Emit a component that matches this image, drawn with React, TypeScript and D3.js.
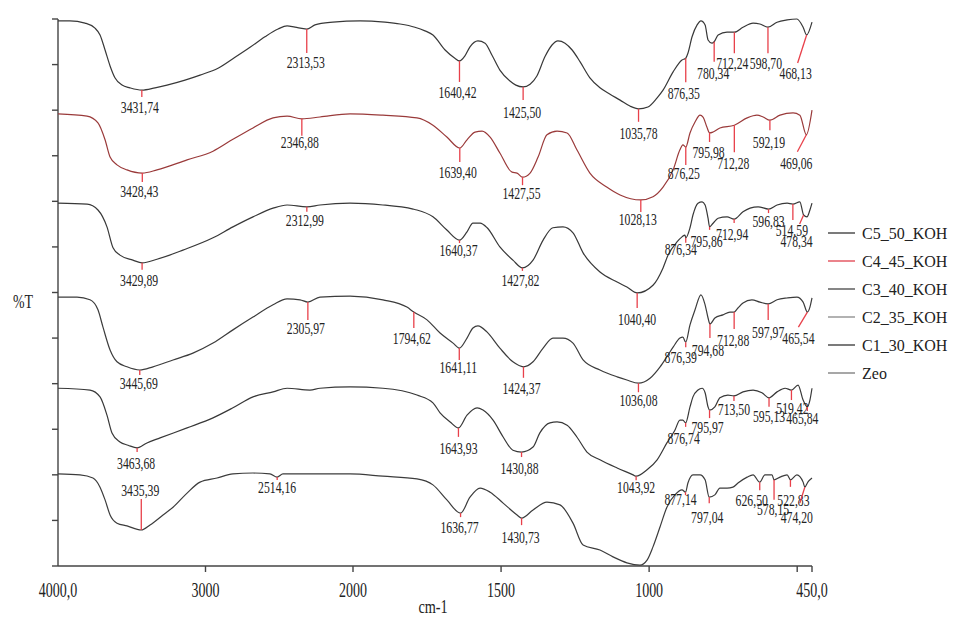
import React from 'react';
import * as d3 from 'd3';

// FTIR spectra, [wavenumber cm-1, %T (stacked)]
const c5: [number, number][] = [
  [4000, 119.6], [3919, 119.6], [3817, 119.1], [3749, 118.0], [3715, 116.5], [3681, 113.2],
  [3647, 109.7], [3614, 107.1], [3566, 105.5], [3512, 104.9], [3431.74, 104.4], [3342, 104.9],
  [3261, 105.5], [3139, 106.6], [3037, 107.7], [2915, 109.2], [2800, 111.6], [2698, 113.8],
  [2597, 116.1], [2508, 117.8], [2447, 118.5], [2393, 118.2], [2313.53, 117.8], [2258, 118.7],
  [2136, 119.3], [1976, 119.6], [1892, 119.3], [1841, 118.9], [1791, 118.2], [1757, 117.4],
  [1730, 116.5], [1689, 113.2], [1656, 111.4], [1640.42, 110.8], [1622, 111.9], [1605, 113.9],
  [1578, 115.2], [1554, 114.7], [1531, 112.1], [1504, 108.8], [1470, 106.4], [1450, 105.5],
  [1425.5, 105.1], [1402, 105.7], [1379, 107.5], [1352, 111.7], [1328, 114.3], [1308, 115.2],
  [1284, 114.7], [1260, 113.2], [1233, 110.6], [1200, 107.1], [1166, 104.9], [1132, 103.5],
  [1098, 102.2], [1065, 100.9], [1035.78, 100.3], [1004, 100.7], [973, 102.7], [953, 104.4],
  [919, 108.4], [889, 111.0], [876.35, 111.4], [869, 112.5], [855, 116.1], [838, 118.7],
  [825, 119.6], [811, 118.7], [801, 115.4], [788, 114.7], [780.34, 115.0], [767, 116.5],
  [737, 117.1], [712.24, 117.1], [683, 118.2], [649, 119.1], [626, 118.9], [598.7, 118.2],
  [568, 119.3], [534, 119.8], [501, 120.0], [480, 118.2], [468.13, 116.5], [450, 119.3],
];

const c4: [number, number][] = [
  [4000, 99.2], [3803, 98.7], [3729, 97.2], [3681, 93.5], [3647, 89.7], [3600, 88.0],
  [3532, 86.9], [3428.43, 86.2], [3329, 86.9], [3125, 89.1], [2949, 91.0], [2814, 93.6],
  [2678, 96.1], [2542, 98.3], [2447, 98.7], [2346.88, 98.1], [2224, 98.5], [2020, 99.2],
  [1899, 98.9], [1784, 98.3], [1730, 96.7], [1683, 94.1], [1639.4, 91.7], [1615, 93.5],
  [1588, 95.2], [1564, 95.4], [1537, 94.1], [1504, 90.6], [1463, 86.4], [1446, 86.2],
  [1427.55, 85.3], [1402, 86.2], [1375, 89.7], [1345, 94.6], [1311, 95.4], [1277, 95.0],
  [1244, 91.3], [1200, 86.2], [1142, 83.1], [1098, 81.4], [1028.13, 80.3], [987, 81.0],
  [953, 83.1], [919, 86.9], [896, 91.3], [886, 92.4], [876.25, 91.9], [862, 95.0],
  [845, 97.4], [828, 98.9], [818, 98.5], [805, 96.3], [795.98, 95.0], [784, 95.2],
  [761, 96.1], [712.28, 96.7], [669, 98.3], [636, 98.9], [615, 98.5], [592.19, 97.8],
  [558, 98.9], [514, 99.4], [491, 98.9], [469.06, 94.6], [450, 100.0],
];

const c3: [number, number][] = [
  [4000, 79.6], [3803, 79.4], [3729, 78.1], [3668, 74.4], [3627, 69.8], [3580, 68.2],
  [3492, 67.1], [3429.89, 66.5], [3329, 67.3], [3153, 69.3], [2949, 72.0], [2814, 74.4],
  [2678, 76.6], [2542, 78.5], [2447, 79.2], [2312.99, 78.8], [2224, 79.2], [2020, 79.6],
  [1899, 79.2], [1797, 78.3], [1784, 78.1], [1730, 76.6], [1683, 73.7], [1640.37, 71.5],
  [1615, 73.3], [1595, 75.2], [1571, 75.2], [1547, 74.2], [1504, 70.0], [1460, 67.1],
  [1427.82, 65.4], [1392, 67.1], [1358, 71.5], [1325, 74.2], [1291, 74.4], [1257, 73.1],
  [1223, 68.7], [1166, 64.5], [1108, 62.3], [1075, 61.2], [1040.4, 59.9], [987, 61.6],
  [953, 65.4], [936, 68.2], [906, 71.1], [889, 72.2], [879, 72.6], [876.34, 72.0],
  [862, 74.2], [852, 77.0], [835, 79.6], [821, 79.9], [811, 79.2], [801, 76.3],
  [795.86, 74.4], [784, 75.2], [767, 76.3], [737, 76.6], [712.94, 76.1], [683, 77.7],
  [659, 78.5], [632, 78.8], [596.83, 78.3], [568, 79.2], [534, 79.6], [514.59, 79.4],
  [491, 79.9], [478.34, 77.0], [467, 76.6], [457, 78.1], [450, 79.6],
];

const c2: [number, number][] = [
  [4000, 59.0], [3871, 59.0], [3783, 58.4], [3729, 56.2], [3695, 52.4], [3647, 47.4],
  [3600, 44.8], [3532, 43.7], [3445.69, 43.0], [3356, 43.7], [3220, 45.2], [3085, 46.7],
  [2949, 48.9], [2814, 51.8], [2678, 54.6], [2542, 57.3], [2447, 58.6], [2359, 58.4],
  [2305.97, 57.9], [2224, 59.0], [2020, 59.2], [1899, 58.4], [1818, 56.8], [1794.62, 55.7],
  [1750, 54.0], [1706, 51.1], [1662, 48.9], [1641.11, 47.8], [1615, 50.0], [1595, 52.2],
  [1578, 52.7], [1547, 51.3], [1504, 47.8], [1460, 44.8], [1424.37, 43.7], [1392, 44.8],
  [1358, 47.8], [1325, 50.0], [1291, 50.0], [1257, 48.9], [1223, 45.2], [1166, 43.0],
  [1108, 41.5], [1075, 40.8], [1036.08, 40.1], [997, 41.2], [963, 43.7], [940, 45.9],
  [919, 48.0], [896, 50.0], [886, 50.2], [876.39, 49.1], [862, 52.9], [845, 56.2],
  [825, 59.5], [811, 57.3], [801, 54.4], [794.68, 53.1], [778, 54.4], [751, 55.1],
  [727, 55.7], [712.88, 55.7], [700, 56.6], [683, 57.7], [653, 58.4], [626, 57.9],
  [597.97, 57.5], [568, 58.4], [534, 58.8], [501, 59.0], [480, 57.9], [465.54, 55.7],
  [457, 56.8], [450, 58.8],
];

const c1: [number, number][] = [
  [4000, 39.0], [3783, 38.6], [3715, 37.1], [3668, 33.1], [3634, 29.2], [3580, 27.2],
  [3525, 26.5], [3463.68, 25.9], [3397, 27.0], [3308, 28.1], [3125, 30.3], [2949, 32.5],
  [2814, 34.7], [2678, 37.1], [2542, 38.2], [2447, 39.0], [2292, 38.6], [2224, 39.0],
  [2020, 39.3], [1899, 39.0], [1784, 37.5], [1730, 35.8], [1706, 33.6], [1672, 31.6],
  [1643.93, 30.3], [1615, 33.1], [1581, 34.7], [1561, 34.2], [1527, 32.0], [1493, 28.3],
  [1460, 25.4], [1430.88, 25.0], [1392, 26.1], [1369, 29.2], [1335, 31.4], [1311, 31.6],
  [1277, 30.9], [1244, 28.3], [1210, 25.0], [1166, 23.3], [1108, 21.5], [1054, 20.0],
  [1043.92, 19.7], [1007, 21.1], [973, 23.3], [940, 27.0], [913, 29.8], [896, 32.0],
  [886, 32.0], [876.74, 31.4], [862, 34.9], [852, 37.1], [835, 38.6], [821, 39.0],
  [811, 38.0], [801, 34.9], [795.97, 34.2], [778, 34.9], [761, 36.9], [734, 37.5],
  [713.5, 37.3], [683, 38.2], [649, 38.6], [619, 38.0], [595.13, 36.9], [568, 38.2],
  [541, 39.0], [519.42, 38.6], [497, 39.7], [480, 36.4], [465.84, 34.9], [457, 36.4],
  [450, 39.0],
];

const zeo: [number, number][] = [
  [4000, 20.2], [3851, 20.0], [3763, 19.3], [3715, 17.3], [3681, 14.5], [3647, 11.2],
  [3600, 9.4], [3532, 8.8], [3435.39, 7.9], [3376, 9.0], [3288, 11.2], [3220, 12.9],
  [3125, 16.0], [3037, 18.4], [2922, 19.3], [2814, 20.2], [2678, 20.4], [2563, 20.2],
  [2514.16, 19.5], [2475, 20.2], [2224, 20.2], [2020, 20.2], [1899, 19.7], [1784, 19.1],
  [1730, 17.8], [1683, 14.5], [1636.77, 11.6], [1605, 15.1], [1571, 17.1], [1537, 16.2],
  [1493, 13.8], [1446, 11.2], [1430.73, 10.5], [1392, 12.3], [1345, 14.0], [1301, 13.4],
  [1257, 9.4], [1223, 4.6], [1166, 3.5], [1122, 2.0], [1075, 0.7], [1031, 0.2],
  [1007, 1.3], [987, 4.2], [963, 8.6], [940, 12.9], [913, 15.6], [889, 16.7],
  [877.14, 16.2], [869, 18.2], [852, 20.0], [828, 20.0], [811, 18.9], [797.04, 15.1],
  [778, 15.6], [761, 17.1], [737, 17.1], [717, 17.3], [700, 18.2], [669, 19.5],
  [649, 20.0], [626.5, 18.4], [609, 20.0], [585, 20.0], [578.15, 18.9], [558, 19.5],
  [534, 20.0], [522.83, 18.9], [501, 20.0], [480, 18.4], [474.2, 17.3], [464, 18.4],
  [450, 19.3],
];

// labelled peaks per series
const c5Peaks = [3431.74, 2313.53, 1640.42, 1425.5, 1035.78, 876.35, 780.34, 712.24, 598.7, 468.13];
const c4Peaks = [3428.43, 2346.88, 1639.4, 1427.55, 1028.13, 876.25, 795.98, 712.28, 592.19, 469.06];
const c3Peaks = [3429.89, 2312.99, 1640.37, 1427.82, 1040.4, 876.34, 795.86, 712.94, 596.83, 514.59, 478.34];
const c2Peaks = [3445.69, 2305.97, 1794.62, 1641.11, 1424.37, 1036.08, 876.39, 794.68, 712.88, 597.97, 465.54];
const c1Peaks = [3463.68, 1643.93, 1430.88, 1043.92, 876.74, 795.97, 713.5, 595.13, 519.42, 465.84];
const zeoPeaks = [3435.39, 2514.16, 1636.77, 1430.73, 877.14, 797.04, 626.5, 578.15, 522.83, 474.2];

// marker layout: [tick length, label dy, label dx, tick slant]
const c5Marks = [[7, 10, -2, 0], [24, 9, -1, 0], [21, 10, -2, 0], [13, 12, -1, 0], [13, 11, 0, 0], [24, 11, -2, 0], [20, 11, -1, 0], [21, 10, -2, 0], [26, 10, -2, 0], [28, 10, -2, -9]];
const c4Marks = [[9, 9, -3, 0], [17, 6, -2, 0], [14, 10, -2, 0], [8, 8, -1, 0], [12, 7, -3, 0], [18, 8, -2, 0], [9, 10, -1, 0], [27, 11, -1, 0], [10, 12, -1, 0], [17, 11, -1, -9]];
const c3Marks = [[7, 10, -3, 0], [5, 8, -2, 0], [3, 7, -1, 0], [3, 9, -2, 0], [15, 11, 0, 0], [5, 6, -5, 0], [3, 11, -3, 0], [4, 11, -2, 0], [4, 8, 0, 0], [16, 10, -1, 0], [9, 17, -3, -4]];
const c2Marks = [[5, 8, -1, 0], [18, 8, -2, 0], [16, 10, -2, 0], [12, 7, -1, 0], [11, 10, -2, 0], [9, 8, 0, 0], [5, 10, -5, 0], [14, 12, -2, 0], [17, 11, -1, 0], [16, 12, 0, 0], [15, 11, 0, -9]];
const c1Marks = [[4, 11, -1, 0], [9, 11, 0, 0], [5, 11, -2, 0], [4, 7, 0, 0], [4, 11, -2, 0], [8, 9, -2, 0], [5, 8, 0, 0], [9, 9, 0, 0], [10, 8, 1, 0], [4, 7, -5, 0]];
const zeoMarks = [[-31, -9, -1, 0], [3, 7, 0, 0], [4, 10, -1, 0], [7, 12, -1, 0], [3, 4, -5, 0], [6, 14, -2, 0], [8, 10, -8, 0], [20, 9, -1, 0], [7, 13, 3, 0], [16, 14, -3, -5]];

const names = ['C5_50_KOH', 'C4_45_KOH', 'C3_40_KOH', 'C2_35_KOH', 'C1_30_KOH', 'Zeo'];
const lineColors = ['#383838', '#9a3a3a', '#383838', '#3c3c3c', '#383838', '#3c3c3c'];
const legendColors = ['#333', '#e0404c', '#444', '#888', '#333', '#777'];

const xTickLabels: [number, string][] = [[4000, '4000,0'], [3000, '3000'], [2000, '2000'], [1500, '1500'], [1000, '1000'], [450, '450,0']];
const xTickMarks = [3000, 2000, 1500, 1000, 500, 450];

const series = [c5, c4, c3, c2, c1, zeo];
const peaks = [c5Peaks, c4Peaks, c3Peaks, c2Peaks, c1Peaks, zeoPeaks];
const marks = [c5Marks, c4Marks, c3Marks, c2Marks, c1Marks, zeoMarks];

const FONT = 'Liberation Serif, Times New Roman, serif';
const PEAK_RED = '#e8404a';

const xScale = d3.scaleLinear().domain([4000, 2000, 450]).range([58, 353, 812]);
const yScale = d3.scaleLinear().domain([0, 120]).range([566, 19]);

const valueAt = (data: [number, number][], v: number) => {
  for (let i = 0; i < data.length - 1; i++) {
    const [v0, t0] = data[i];
    const [v1, t1] = data[i + 1];
    if (v <= v0 && v >= v1) return t0 + ((v - v0) / (v1 - v0)) * (t1 - t0);
  }
  return data[data.length - 1][1];
};

const fmt = (v: number) => v.toFixed(2).replace('.', ',');

const App = () => {
  const line = d3
    .line<[number, number]>()
    .x((d) => xScale(d[0]))
    .y((d) => yScale(d[1]))
    .curve(d3.curveMonotoneX);

  const yTicks = d3.range(0, 121, 10);

  return (
    <svg
      width={953}
      height={620}
      style={{ position: 'fixed', left: 0, top: 0, background: '#fff' }}
      fontFamily={FONT}
    >
      {/* axes */}
      <line x1={58} x2={58} y1={yScale(120)} y2={yScale(0)} stroke="#444" strokeWidth={1.4} />
      <line x1={58} x2={xScale(450)} y1={yScale(0)} y2={yScale(0)} stroke="#444" strokeWidth={1.4} />
      {yTicks.map((t) => (
        <line key={t} x1={52} x2={58} y1={yScale(t)} y2={yScale(t)} stroke="#444" strokeWidth={1.4} />
      ))}
      {xTickMarks.map((v) => (
        <line key={v} x1={xScale(v)} x2={xScale(v)} y1={566} y2={572} stroke="#444" strokeWidth={1.4} />
      ))}
      {xTickLabels.map(([v, s]) => (
        <text key={v} transform={`translate(${xScale(v)},597) scale(0.7,1)`} textAnchor="middle" fontSize={20} fill="#222">
          {s}
        </text>
      ))}
      <text transform="translate(433,613) scale(0.75,1)" textAnchor="middle" fontSize={19} fill="#222">
        cm-1
      </text>
      <text transform="translate(23,308) scale(0.73,1)" textAnchor="middle" fontSize={19} fill="#222">
        %T
      </text>

      {/* spectra */}
      {series.map((s, i) => (
        <path key={names[i]} d={line(s) || ''} fill="none" stroke={lineColors[i]} strokeWidth={1.2} />
      ))}

      {/* peak markers */}
      {series.map((s, i) =>
        peaks[i].map((p, j) => {
          const [len, ldy, ldx, slant] = marks[i][j];
          const x = xScale(p);
          const y = yScale(valueAt(s, p));
          const x2 = x + slant;
          const y2 = y + len;
          return (
            <g key={`${i}-${p}`}>
              <line x1={x} y1={y} x2={x2} y2={y2} stroke={PEAK_RED} strokeWidth={1.3} />
              <text
                transform={`translate(${x2 + ldx},${y2 + ldy}) scale(0.69,1)`}
                textAnchor="middle"
                dy="0.34em"
                fontSize={17}
                fill="#222"
              >
                {fmt(p)}
              </text>
            </g>
          );
        })
      )}

      {/* legend */}
      {names.map((n, i) => (
        <g key={n} transform={`translate(828,${233 + i * 28})`}>
          <line x1={0} x2={27} y1={0} y2={0} stroke={legendColors[i]} strokeWidth={1.3} />
          <text x={34} y={5.5} fontSize={16} fill="#222">
            {n}
          </text>
        </g>
      ))}
    </svg>
  );
};

export default App;
